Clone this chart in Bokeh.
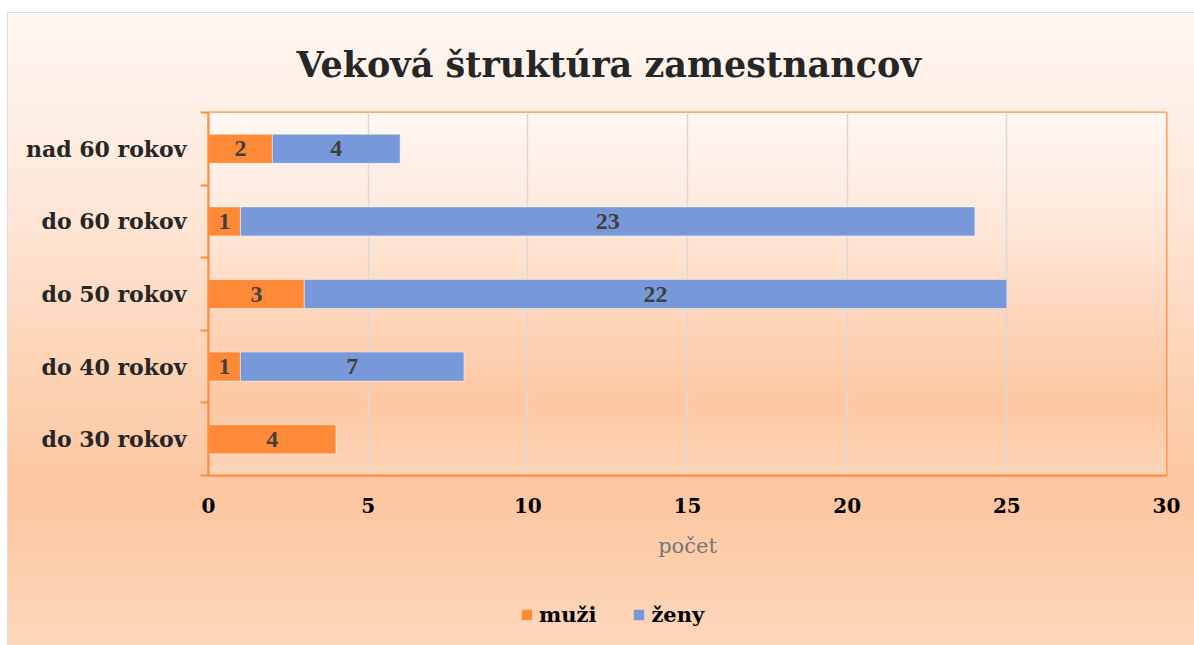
from bokeh.plotting import figure
from bokeh.layouts import column
from bokeh.models import (ColumnDataSource, FixedTicker, Legend, LegendItem,
                          BoxAnnotation, LabelSet)
from bokeh.embed import file_html
from bokeh.resources import INLINE

# ---- data ----
categories = ["do 30 rokov", "do 40 rokov", "do 50 rokov", "do 60 rokov", "nad 60 rokov"]
muzi = [4, 1, 3, 1, 2]
zeny = [0, 7, 22, 23, 4]
series_names = ["muži", "ženy"]
x_ticks = [0, 5, 10, 15, 20, 25, 30]
title_text = "Veková štruktúra zamestnancov"
x_label = "počet"

# ---- styles ----
ORANGE = "#FE8A38"
BLUE = "#7799D9"
AXIS_ORANGE = "#FF8C42"
GRID = "#D9D9D9"
FONT = "DejaVu Serif"

y_pos = [i + 0.5 for i in range(len(categories))]
boundaries = list(range(len(categories) + 1))

src_m = ColumnDataSource(dict(y=y_pos, left=[0] * len(muzi), right=muzi,
                              mid=[m / 2 for m in muzi], lab=[str(m) for m in muzi]))
z_right = [m + z for m, z in zip(muzi, zeny)]
src_z = ColumnDataSource(dict(y=y_pos, left=muzi, right=z_right))
zl = [(y, m + z / 2, str(z)) for y, m, z in zip(y_pos, muzi, zeny) if z > 0]
src_zl = ColumnDataSource(dict(y=[a[0] for a in zl], mid=[a[1] for a in zl], lab=[a[2] for a in zl]))

W = 1187
H_MAIN = 575
H_LEG = 58

p = figure(width=W, height=H_MAIN, x_range=(0, 30), y_range=(0, len(categories)),
           output_backend="svg", toolbar_location=None,
           min_border_left=200, min_border_right=29, min_border_top=97, min_border_bottom=113)
p.border_fill_color = None
p.background_fill_color = None
p.outline_line_color = AXIS_ORANGE
p.outline_line_width = 2

# inner gradient of plot area (decoration)
stops = [(0.0, (254, 248, 244)), (0.3, (254, 232, 218)), (0.55, (253, 214, 188)),
         (0.8, (253, 199, 162)), (1.0, (253, 213, 185))]


def interp(f):
    for (f0, c0), (f1, c1) in zip(stops[:-1], stops[1:]):
        if f0 <= f <= f1:
            t = (f - f0) / (f1 - f0)
            return "#%02x%02x%02x" % tuple(int(round(a + (b - a) * t)) for a, b in zip(c0, c1))
    return "#%02x%02x%02x" % stops[-1][1]


N = 60
H = len(categories)
bands = []
for i in range(N):
    top = H - i * H / N
    bot = H - (i + 1) * H / N
    bands.append(BoxAnnotation(top=top, bottom=bot, fill_color=interp((i + 0.5) / N),
                               fill_alpha=1, line_color=None, level="underlay"))
p.center = bands + list(p.center)

# bars
bar_kw = dict(height=0.4, line_color="white", line_alpha=0.45, line_width=1)
r_m = p.hbar(y="y", left="left", right="right", source=src_m, fill_color=ORANGE, **bar_kw)
r_z = p.hbar(y="y", left="left", right="right", source=src_z, fill_color=BLUE, **bar_kw)

for s in (src_m, src_zl):
    p.add_layout(LabelSet(x="mid", y="y", text="lab", source=s, text_align="center",
                          text_baseline="middle", text_font=FONT, text_font_style="bold",
                          text_font_size="24px", text_color="#404040"))

# title
p.title.text = title_text
p.title.align = "left"
p.title.offset = 88
p.title.vertical_align = "bottom"
p.title.standoff = 56
p.title.text_font = FONT
p.title.text_font_style = "bold"
p.title.text_font_size = "35px"
p.title.text_color = "#262626"

# axes
xa = p.xaxis[0]
xa.ticker = FixedTicker(ticks=x_ticks)
xa.axis_line_color = AXIS_ORANGE
xa.axis_line_width = 2
xa.major_tick_out = 0
xa.major_tick_in = 0
xa.minor_tick_line_color = None
xa.major_label_text_font = FONT
xa.major_label_text_font_style = "bold"
xa.major_label_text_font_size = "20px"
xa.major_label_text_color = "#000000"
xa.major_label_standoff = 22
xa.axis_label = x_label
xa.axis_label_text_font = FONT
xa.axis_label_text_font_style = "normal"
xa.axis_label_text_font_size = "21px"
xa.axis_label_text_color = "#767676"
xa.axis_label_standoff = 18

ya = p.yaxis[0]
ya.ticker = FixedTicker(ticks=y_pos, minor_ticks=boundaries)
ya.major_label_overrides = {y: c for y, c in zip(y_pos, categories)}
ya.axis_line_color = AXIS_ORANGE
ya.axis_line_width = 2
ya.major_tick_out = 0
ya.major_tick_in = 0
ya.minor_tick_out = 8
ya.minor_tick_in = 0
ya.minor_tick_line_color = AXIS_ORANGE
ya.minor_tick_line_width = 2
ya.major_label_text_font = FONT
ya.major_label_text_font_style = "bold"
ya.major_label_text_font_size = "22px"
ya.major_label_text_color = "#262626"
ya.major_label_standoff = 14

p.xgrid.ticker = FixedTicker(ticks=x_ticks)
p.xgrid.grid_line_color = GRID
p.xgrid.grid_line_width = 1.5
p.ygrid.grid_line_color = None

# legend strip (bars lie outside its ranges, only used as legend glyphs)
lf = figure(width=W, height=H_LEG, x_range=(100, 101), y_range=(100, 101),
            output_backend="svg", toolbar_location=None,
            x_axis_location=None, y_axis_location=None,
            min_border=0, min_border_left=0, min_border_right=0, min_border_top=0, min_border_bottom=0)
lf.border_fill_color = None
lf.background_fill_color = None
lf.outline_line_color = None
lf.grid.visible = False
leg_kw = dict(height=0.4, line_color=None)
lr_m = lf.hbar(y="y", left="left", right="right", source=src_m, fill_color=ORANGE, **leg_kw)
lr_z = lf.hbar(y="y", left="left", right="right", source=src_z, fill_color=BLUE, **leg_kw)

legend = Legend(items=[LegendItem(label=series_names[0], renderers=[lr_m]),
                       LegendItem(label=series_names[1], renderers=[lr_z])],
                orientation="horizontal", location=(312, 19),
                glyph_width=13, glyph_height=13, label_standoff=6, spacing=36,
                padding=0, margin=0, border_line_color=None, background_fill_color=None,
                label_text_font=FONT, label_text_font_style="bold",
                label_text_font_size="21px", label_text_color="#000000")
lf.add_layout(legend, "center")

layout = column(p, lf, spacing=0)
layout.margin = (12, 0, 0, 7)
layout.styles = {"background": "linear-gradient(180deg, #FEF8F3 0%, #FEE7D8 30%, #FDD4B7 55%, #FCC6A0 76%, #FDD7BC 100%)",
                 "border-top": "1px solid #D9D9D9", "border-left": "1px solid #D9D9D9"}

open("out.html", "w").write(file_html(layout, INLINE))
